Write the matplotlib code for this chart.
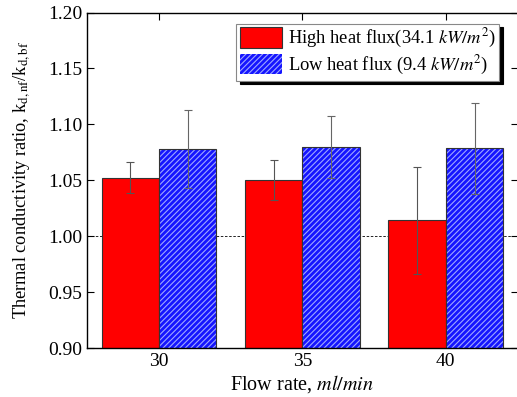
import numpy as np
import matplotlib
matplotlib.use('Agg')
import matplotlib.pyplot as plt

plt.rcParams['font.family'] = ['Liberation Serif', 'DejaVu Serif']
plt.rcParams['mathtext.fontset'] = 'stix'
plt.rcParams['hatch.linewidth'] = 0.8

# data
flow = [30, 35, 40]
high_flux = [1.0524, 1.0504, 1.0143]
high_err = [0.0135, 0.018, 0.048]
low_flux = [1.0778, 1.0796, 1.0784]
low_err = [0.035, 0.028, 0.041]
yticks = [0.90, 0.95, 1.00, 1.05, 1.10, 1.15, 1.20]

fig = plt.figure(figsize=(5.17, 3.97), dpi=100)
ax = fig.add_axes([0.169, 0.1234, 0.832, 0.8451])

x = np.array(flow, dtype=float)
w = 2.0
ax.axhline(1.0, color='black', ls=(0, (3, 2)), lw=0.6, zorder=1)

ax.bar(x - w / 2, high_flux, width=w, color='#ff0000', edgecolor='#333333',
       lw=0.8, zorder=2, label='High heat flux(34.1 $kW/m^2$)')
# blue hatched bars: hatch drawn light, outline drawn dark on top
ax.bar(x + w / 2, low_flux, width=w, color='#1515ff', edgecolor='#a0a8ff',
       hatch='//////', lw=0, zorder=2)
ax.bar(x + w / 2, low_flux, width=w, fill=False, edgecolor='#333333',
       lw=0.8, zorder=2)
low_handle = plt.Rectangle((0, 0), 1, 1, facecolor='#1515ff', edgecolor='#a0a8ff',
                           hatch='//////', lw=0)

ax.errorbar(x - w / 2, high_flux, yerr=high_err, fmt='none', ecolor='#555555',
            elinewidth=0.8, capsize=3, capthick=0.8, zorder=3)
ax.errorbar(x + w / 2, low_flux, yerr=low_err, fmt='none', ecolor='#666666',
            elinewidth=0.8, capsize=3, capthick=0.8, zorder=3)

ax.set_xlim(27.5, 42.5)
ax.set_ylim(0.90, 1.20)
ax.set_xticks(flow)
ax.set_yticks(yticks)
ax.set_yticklabels([f'{v:.2f}' for v in yticks])
ax.tick_params(direction='in', top=True, right=True, labelsize=14, length=5, width=0.8)
for s in ax.spines.values():
    s.set_linewidth(1.0)

ax.set_xlabel('Flow rate, $ml/min$', fontsize=14.5, labelpad=2)
ax.set_ylabel('Thermal conductivity ratio, k$_{\\mathrm{d,nf}}$/k$_{\\mathrm{d,bf}}$',
              fontsize=13.2, labelpad=12)

h, l = ax.get_legend_handles_labels()
leg = ax.legend([h[0], low_handle], [l[0], 'Low heat flux (9.4 $kW/m^2$)'],
                loc='upper right', bbox_to_anchor=(0.958, 0.967), fontsize=13.3,
                fancybox=False, edgecolor='#888888', framealpha=1,
                shadow={'color': 'black', 'alpha': 1, 'ox': 2.5, 'oy': -2.5},
                handlelength=2.3, handleheight=1.3, handletextpad=0.3,
                borderpad=0.2, labelspacing=0.2, borderaxespad=0)
leg.get_frame().set_linewidth(0.8)

fig.savefig('out.png', dpi=100)
